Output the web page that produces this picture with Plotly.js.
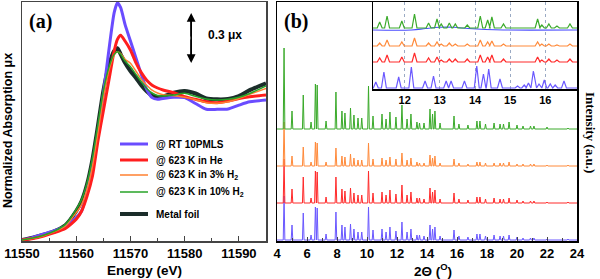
<!DOCTYPE html>
<html><head><meta charset="utf-8">
<script src="https://cdn.plot.ly/plotly-3.0.1.min.js"></script>
<style>html,body{margin:0;padding:0;background:#fff}#c{width:600px;height:279px}</style>
</head><body><div id="c"></div>
<script>
// ---------- Panel (a): XANES ----------
const energy = [11550,11552,11554,11556,11558,11560,11561,11562,11563,11564,11565,11566,11567,11567.6,11568.2,11569,11570,11571,11572,11573,11574,11575,11576,11578,11580,11582,11584,11586,11588,11590,11592,11595];
const xasRT   = [0.006,0.022,0.042,0.062,0.09,0.14,0.18,0.30,0.44,0.64,0.88,1.14,1.37,1.43,1.40,1.30,1.20,1.10,1.00,0.91,0.86,0.85,0.855,0.862,0.86,0.825,0.79,0.79,0.792,0.815,0.835,0.846];
const xasHe   = [0.006,0.015,0.03,0.05,0.075,0.13,0.18,0.27,0.39,0.60,0.78,0.96,1.14,1.21,1.235,1.20,1.146,1.07,1.01,0.965,0.935,0.918,0.906,0.89,0.866,0.85,0.835,0.83,0.84,0.855,0.866,0.876];
const xas3H2  = [0.006,0.016,0.032,0.056,0.09,0.17,0.22,0.31,0.45,0.65,0.86,1.02,1.115,1.136,1.125,1.09,1.066,1.02,0.97,0.935,0.905,0.888,0.878,0.872,0.862,0.848,0.83,0.826,0.835,0.855,0.88,0.916];
const xas10H2 = [0.006,0.018,0.035,0.06,0.10,0.19,0.25,0.35,0.50,0.70,0.90,1.04,1.12,1.136,1.12,1.08,1.046,1.00,0.955,0.915,0.888,0.873,0.87,0.876,0.886,0.868,0.852,0.846,0.85,0.862,0.885,0.93];
const xasFoil = [0.006,0.02,0.038,0.06,0.095,0.18,0.24,0.34,0.49,0.69,0.90,1.05,1.14,1.156,1.12,1.07,1.02,0.98,0.935,0.898,0.872,0.864,0.866,0.89,0.90,0.885,0.855,0.85,0.852,0.87,0.905,0.946];
const energyTicks = [11550,11560,11570,11580,11590];

// ---------- Panel (b): XRD main (peak positions, deg; heights, px-scale a.u.) ----------
const peakPos = [4.47,5.0,5.75,6.27,6.56,6.68,7.27,7.93,8.33,8.53,8.9,9.13,9.4,9.65,10.1,10.4,11.0,11.27,11.53,11.93,12.33,12.67,12.93,13.33,13.5,13.8,14.2,14.37,14.53,14.87,15.8,16.13,16.73,17.33,17.53,17.9,18.47,18.87,19.1,19.47,20.0,20.4,20.9,21.13,22.0,23.4];
const hGreen  = [81,18,34,7,45,44,8,37,18,16,21,14,11,11,43,13,15,10,17,12,24,10,15,7,6,6,20,15,18,6,13,5,4,8,8,5,6,5,5,7,4,3,3,3,2,1];
const hOrange = [44,10,19,4,24,23,4,18,10,9,12,8,6,6,23,7,8,6,9,7,13,6,8,4,3,3,11,8,10,3,7,3,2,4,4,3,3,3,3,4,2,2,2,2,1,1];
const hRed    = [44,14,26,5,32,31,6,26,14,12,15,10,8,8,32,10,11,8,13,9,18,8,11,5,5,4,15,11,13,4,10,4,3,6,6,4,5,4,4,5,3,2,2,2,1,1];
const hBlue   = [44,15,27,5,33,32,6,28,15,13,16,11,8,8,33,10,11,8,13,9,18,8,11,5,5,4,15,11,13,4,10,4,3,6,6,4,5,4,4,5,3,2,2,2,1,1];
const tthTicks = [4,6,8,10,12,14,16,18,20,22,24];

// ---------- Inset ----------
const insPos   = [11.29,11.5,11.92,12.28,12.68,12.92,13.04,13.27,13.44,13.78,14.15,14.36,14.48,14.81,15.78,15.9,16.1,16.33,16.7];
const insGreen = [6,12,7,14,5,9,4,5,4,3,12,8,11,4,9,3,4,2,4];
const insOrange= [3,6,4,8,3,4,2,3,2,2,6,4,5,2,4,2,2,1,2];
const insRed   = [4,7,5,9,4,5,2,3,3,3,7,5,7,3,5,2,3,2,3];
const insBluePos = [11.18,11.41,11.83,12.19,12.58,12.82,13.18,13.32,13.7,14.05,14.24,14.39,14.71,15.21,15.4,15.52,15.66,15.82,15.97,16.14,16.28,16.53];
const insBlue    = [6,16,11,21,7,12,7,7,7,22,14,19,9,2,3,5,17,4,8,4,3,7];
const humpX = [11.1,12.2,12.6,13.0,13.4,13.8,14.3,14.8,16.9];
const humpY = [0,0,1.5,2.7,2.7,1.5,0.5,0,0];
const insTicks = [12,13,14,15,16];

const C = {blue:'#6a4cff', red:'#ff1e1e', orange:'#ff8030', green:'#27a327', black:'#1b2d2a'};
const XC = {blue:'#6a58ff', red:'#ff2a2a', orange:'#ff8a3a', green:'#3aaa2a'};

function profile(pos, h, base, w, x0, x1){
  const x=[x0], y=[base];
  for(let i=0;i<pos.length;i++){ x.push(pos[i]-w, pos[i], pos[i]+w); y.push(base, base+h[i], base); }
  x.push(x1); y.push(base);
  return {x, y};
}
const base = {blue:1, red:38, orange:75, green:112};
const ibase = {blue:1, red:27, orange:43, green:61, hump:59};

const traces = [];
function xas(y, col, w){ traces.push({x:energy, y:y, mode:'lines', line:{color:col, width:w, shape:'spline', smoothing:0.6}, xaxis:'x', yaxis:'y', hoverinfo:'skip'}); }
xas(xasFoil, C.black, 4);
xas(xasRT, C.blue, 3);
xas(xasHe, C.red, 3);
xas(xas3H2, C.orange, 1.5);
xas(xas10H2, C.green, 1.5);

function xrd(h, col, b){ const p=profile(peakPos, h, b, 0.055, 4, 24); traces.push({x:p.x, y:p.y, mode:'lines', line:{color:col, width:1}, xaxis:'x2', yaxis:'y2', hoverinfo:'skip'}); }
xrd(hBlue, XC.blue, base.blue);
xrd(hRed, XC.red, base.red);
xrd(hOrange, XC.orange, base.orange);
xrd(hGreen, XC.green, base.green);

function ins(pos, h, col, b){ const p=profile(pos, h, b, 0.07, 11.1, 16.9); traces.push({x:p.x, y:p.y, mode:'lines', line:{color:col, width:1.2}, xaxis:'x3', yaxis:'y3', hoverinfo:'skip'}); }
ins(insBluePos, insBlue, XC.blue, ibase.blue);
ins(insPos, insRed, XC.red, ibase.red);
ins(insPos, insOrange, XC.orange, ibase.orange);
traces.push({x:humpX, y:humpY.map(v=>v+ibase.hump), mode:'lines', line:{color:'#4a4cff', width:1.1, shape:'spline'}, xaxis:'x3', yaxis:'y3', hoverinfo:'skip'});
ins(insPos, insGreen, XC.green, ibase.green);

const tf = {family:'Liberation Sans, Arial, sans-serif', size:13, color:'#000', weight:'bold'};
const px = v=>v/600, py = v=>1-v/279;
const dA = {x:[px(22),px(266)], y:[py(241),py(2)]};
const dB = {x:[px(277),px(577)], y:[py(241),py(2)]};
const dI = {x:[px(373),px(577)], y:[py(89),py(2)]};

const legendItems = [
  {t:'@ RT 10PMLS', c:C.blue, w:3, y:144},
  {t:'@ 623 K in He', c:C.red, w:3, y:160},
  {t:'@ 623 K in 3% H<sub>2</sub>', c:C.orange, w:1.5, y:175},
  {t:'@ 623 K in 10% H<sub>2</sub>', c:C.green, w:1.5, y:192},
  {t:'Metal foil', c:C.black, w:4, y:214}
];
const shapes = legendItems.map(it=>({type:'line', xref:'paper', yref:'paper', x0:px(120), x1:px(148), y0:py(it.y), y1:py(it.y), line:{color:it.c, width:it.w}}));
// shaft of the double-headed scale arrow (0.3 units)
shapes.push({type:'line', xref:'x', yref:'y', x0:11581.2, x1:11581.2, y0:1.08, y1:1.356, line:{color:'#000', width:1.6}});
const lf = {family:'Liberation Sans, Arial, sans-serif', size:10, color:'#000', weight:'bold'};
const annotations = legendItems.map(it=>({xref:'paper', yref:'paper', x:px(154), y:py(it.y), xanchor:'left', yanchor:'middle', text:it.t, showarrow:false, font:lf}));

annotations.push(
  {xref:'paper', yref:'paper', x:px(40), y:py(21), xanchor:'center', yanchor:'middle', text:'(a)', showarrow:false, font:{family:'Liberation Serif, Times New Roman, serif', size:20, weight:'bold', color:'#000'}},
  {xref:'paper', yref:'paper', x:px(296), y:py(21), xanchor:'center', yanchor:'middle', text:'(b)', showarrow:false, font:{family:'Liberation Serif, Times New Roman, serif', size:20, weight:'bold', color:'#000'}},
  {xref:'paper', yref:'paper', x:px(144), y:py(270), xanchor:'center', yanchor:'middle', text:'Energy (eV)', showarrow:false, font:{family:'Liberation Sans, Arial', size:13.5, weight:'bold', color:'#000'}},
  {xref:'paper', yref:'paper', x:px(433), y:py(270), xanchor:'center', yanchor:'middle', text:'2Θ (<sup>O</sup>)', showarrow:false, font:{family:'Liberation Sans, Arial', size:13.5, weight:'bold', color:'#000'}},
  {xref:'paper', yref:'paper', x:px(8), y:py(131), xanchor:'center', yanchor:'middle', text:'Normalized Absorption μx', textangle:-90, showarrow:false, font:{family:'Liberation Sans, Arial', size:12.5, weight:'bold', color:'#000'}},
  {xref:'paper', yref:'paper', x:px(591), y:py(132), xanchor:'center', yanchor:'middle', text:'Intensity (a.u.)', textangle:90, showarrow:false, font:{family:'Liberation Serif, Times New Roman, serif', size:13, weight:'bold', color:'#000'}},
  {xref:'x', yref:'y', x:11584.0, y:1.236, xanchor:'left', yanchor:'middle', text:'0.3 μx', showarrow:false, font:{family:'Liberation Sans, Arial', size:12, weight:'bold', color:'#000'}},
  {xref:'x', yref:'y', x:11581.2, y:1.368, ax:11581.2, ay:1.218, axref:'x', ayref:'y', text:'', showarrow:true, arrowhead:2, arrowsize:1.1, arrowwidth:1.6, arrowcolor:'#000'},
  {xref:'x', yref:'y', x:11581.2, y:1.068, ax:11581.2, ay:1.218, axref:'x', ayref:'y', text:'', showarrow:true, arrowhead:2, arrowsize:1.1, arrowwidth:1.6, arrowcolor:'#000'}
);

const frame = {showline:true, mirror:true, linewidth:1.5, zeroline:false, showgrid:false, automargin:false};
const layout = {
  width:600, height:279, margin:{l:0,r:0,t:0,b:0}, paper_bgcolor:'#fff', plot_bgcolor:'#fff', showlegend:false,
  xaxis:Object.assign({}, frame, {domain:dA.x, anchor:'y', range:[11550,11595], linecolor:'#444', tickvals:energyTicks, tickformat:'d', ticks:'inside', ticklen:5, tickcolor:'#444', minor:{ticks:'inside', dtick:5, tick0:11550, ticklen:3, tickcolor:'#444'}, tickfont:tf}),
  yaxis:Object.assign({}, frame, {domain:dA.y, anchor:'x', range:[0,1.434], linecolor:'#444', showticklabels:false, ticks:''}),
  xaxis2:Object.assign({}, frame, {domain:dB.x, anchor:'y2', range:[4,24], linecolor:'#000', tickvals:tthTicks, ticks:'inside', ticklen:4, minor:{ticks:'inside', dtick:1, tick0:4, ticklen:3}, tickfont:tf}),
  yaxis2:Object.assign({}, frame, {domain:dB.y, anchor:'x2', range:[0,239], linecolor:'#000', showticklabels:false, ticks:''}),
  xaxis3:Object.assign({}, frame, {domain:dI.x, anchor:'y3', range:[11.1,16.9], linecolor:'#000', tickvals:insTicks, ticks:'', showgrid:true, gridcolor:'#9aaac4', griddash:'dot', gridwidth:1, tickfont:{family:'Liberation Sans, Arial', size:11, weight:'bold', color:'#000'}}),
  yaxis3:Object.assign({}, frame, {domain:dI.y, anchor:'x3', range:[0,87], linecolor:'#000', showticklabels:false, ticks:''}),
  shapes:shapes, annotations:annotations
};
Plotly.newPlot('c', traces, layout, {staticPlot:true, displayModeBar:false});
</script></body></html>
